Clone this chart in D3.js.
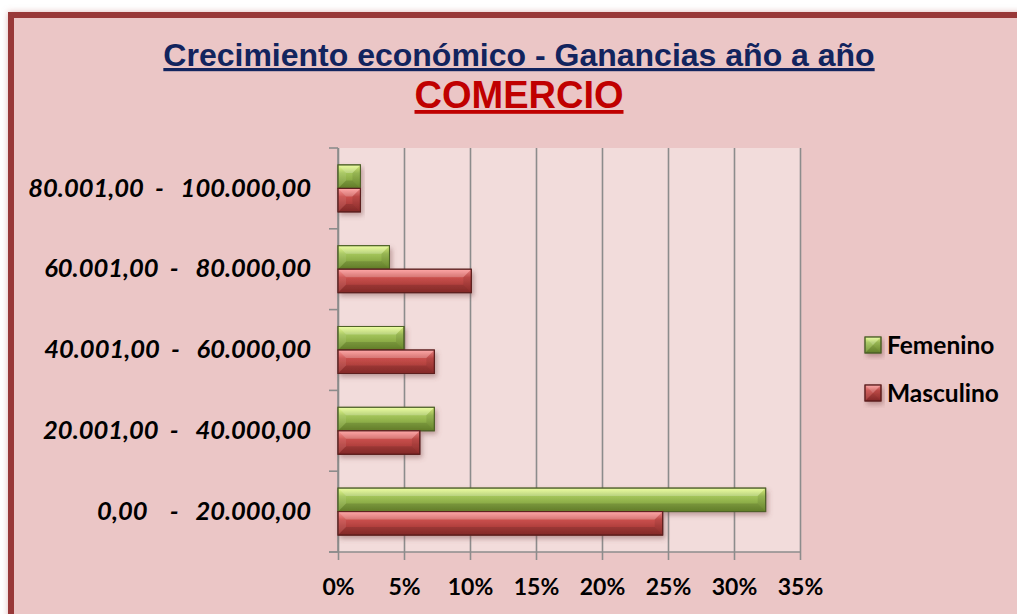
<!DOCTYPE html>
<html><head><meta charset="utf-8">
<script src="https://cdn.jsdelivr.net/npm/d3@7"></script>
<style>
html,body{margin:0;padding:0;background:#fff;}
svg{display:block;}
text{white-space:pre;}
</style></head>
<body>
<svg id="chart" width="1017" height="614"></svg>
<script>
const categories = ["80.001,00  -   100.000,00","60.001,00  -   80.000,00","40.001,00  -   60.000,00","20.001,00  -   40.000,00","0,00    -   20.000,00"];
const seriesNames = ["Femenino","Masculino"];
const femenino = [0.017, 0.039, 0.050, 0.073, 0.324];
const masculino = [0.017, 0.101, 0.073, 0.062, 0.246];
const xTicks = [0,0.05,0.10,0.15,0.20,0.25,0.30,0.35];
const titleText = "Crecimiento económico - Ganancias año a año";
const subtitleText = "COMERCIO";

const svg = d3.select("#chart");
const plot = {left:338, right:800, top:148, bottom:552};

const defs = svg.append("defs");
const glow = defs.append("filter").attr("id","glow").attr("x","-5%").attr("y","-5%").attr("width","110%").attr("height","110%");
glow.append("feDropShadow").attr("dx",0).attr("dy",0).attr("stdDeviation",3).attr("flood-color","#c98a8a").attr("flood-opacity",0.6);
const shadow = defs.append("filter").attr("id","shadow").attr("x","-10%").attr("y","-20%").attr("width","130%").attr("height","160%");
shadow.append("feDropShadow").attr("dx",2).attr("dy",3).attr("stdDeviation",2.5).attr("flood-color","#7a4a4a").attr("flood-opacity",0.45);

const palettes = {
  Femenino:{top:"#eaff86", mid:"#a3c45a", bot:"#6f8f2e", stroke:"#4f6228"},
  Masculino:{top:"#ff9090", mid:"#c94f4c", bot:"#952e2c", stroke:"#5e1f1e"}
};
Object.entries(palettes).forEach(([k,p])=>{
  const g = defs.append("linearGradient").attr("id","grad-"+k).attr("x1",0).attr("y1",0).attr("x2",0).attr("y2",1);
  g.append("stop").attr("offset","0%").attr("stop-color",p.top);
  g.append("stop").attr("offset","35%").attr("stop-color",p.mid);
  g.append("stop").attr("offset","100%").attr("stop-color",p.bot);
});

// frame
svg.append("rect").attr("x",11).attr("y",15).attr("width",1100).attr("height",700)
  .attr("fill","#ebc6c6").attr("stroke","#983838").attr("stroke-width",6).attr("filter","url(#glow)");

// title
svg.append("text").attr("x",519).attr("y",66).attr("text-anchor","middle")
  .attr("font-family","Liberation Sans, Arial, sans-serif").attr("font-weight","bold").attr("font-size",32)
  .attr("fill","#12245e").attr("text-decoration","underline").text(titleText);
svg.append("text").attr("x",519).attr("y",108).attr("text-anchor","middle")
  .attr("font-family","Liberation Sans, Arial, sans-serif").attr("font-weight","bold").attr("font-size",38)
  .attr("fill","#c00000").attr("text-decoration","underline").text(subtitleText);

// scales
const x = d3.scaleLinear().domain([0,0.35]).range([plot.left, plot.right]);
const pad = 0.418;
const y = d3.scaleBand().domain(categories).range([plot.top, plot.bottom]).paddingInner(pad).paddingOuter(pad/2);
const y1 = d3.scaleBand().domain(seriesNames).range([0, y.bandwidth()]);

// plot area
svg.append("rect").attr("x",plot.left).attr("y",plot.top).attr("width",plot.right-plot.left).attr("height",plot.bottom-plot.top).attr("fill","#f2dcdb");

// grid lines
const grid = svg.append("g").attr("transform",`translate(0,${plot.bottom})`)
  .call(d3.axisBottom(x).tickValues(xTicks).tickSizeInner(-(plot.bottom-plot.top)).tickSizeOuter(0).tickFormat(""));
grid.select(".domain").remove();
grid.selectAll("line").attr("stroke","#8c8c8c").attr("stroke-width",1.6);

// x axis with ticks + labels
const xa = svg.append("g").attr("transform",`translate(0,${plot.bottom})`)
  .call(d3.axisBottom(x).tickValues(xTicks).tickSizeInner(8).tickSizeOuter(0).tickPadding(18).tickFormat(d3.format(".0%")));
xa.select(".domain").remove();
xa.selectAll("line").attr("stroke","#8c8c8c").attr("stroke-width",1.6);
xa.selectAll("text").attr("font-family","Lato, sans-serif").attr("font-weight","bold").attr("font-size",23).attr("fill","#000").attr("dy","0.75em");
svg.append("line").attr("x1",plot.left-9).attr("x2",plot.right).attr("y1",plot.bottom).attr("y2",plot.bottom).attr("stroke","#8c8c8c").attr("stroke-width",1.6);

// y axis
const ya = svg.append("g").attr("transform",`translate(${plot.left},0)`)
  .call(d3.axisLeft(y).tickSize(0).tickPadding(27));
ya.select(".domain").remove();
ya.selectAll("text").attr("font-family","Lato, sans-serif").attr("font-weight","bold").attr("font-style","italic").attr("font-size",25.5).attr("fill","#000").style("white-space","pre");
svg.append("line").attr("x1",plot.left).attr("x2",plot.left).attr("y1",plot.top).attr("y2",plot.bottom).attr("stroke","#8c8c8c").attr("stroke-width",1.6);
const bounds = categories.map(c => y(c) - y.step()*pad/2).concat([plot.bottom]);
svg.append("g").selectAll("line").data(bounds).join("line")
  .attr("x1",plot.left-9).attr("x2",plot.left).attr("y1",d=>d).attr("y2",d=>d)
  .attr("stroke","#8c8c8c").attr("stroke-width",1.6);

// bevel bar drawer
function bevelBar(g, x0, y0, w, h, name){
  const p = palettes[name];
  const b = Math.min(8, h/2, w/2);
  const gg = g.append("g");
  gg.append("rect").attr("x",x0).attr("y",y0).attr("width",w).attr("height",h)
    .attr("fill",`url(#grad-${name})`).attr("stroke",p.stroke).attr("stroke-width",1).attr("filter","url(#shadow)");
  const x1 = x0+w, y1b = y0+h;
  gg.append("path").attr("d",`M${x0},${y0}L${x1},${y0}L${x1-b},${y0+b}L${x0+b},${y0+b}Z`).attr("fill","#fff").attr("opacity",0.22);
  gg.append("path").attr("d",`M${x0},${y1b}L${x1},${y1b}L${x1-b},${y1b-b}L${x0+b},${y1b-b}Z`).attr("fill","#000").attr("opacity",0.12);
  gg.append("path").attr("d",`M${x0},${y0}L${x0+b},${y0+b}L${x0+b},${y1b-b}L${x0},${y1b}Z`).attr("fill","#fff").attr("opacity",0.08);
  gg.append("path").attr("d",`M${x1},${y0}L${x1-b},${y0+b}L${x1-b},${y1b-b}L${x1},${y1b}Z`).attr("fill","#000").attr("opacity",0.08);
  gg.append("rect").attr("x",x0).attr("y",y0).attr("width",w).attr("height",h).attr("fill","none").attr("stroke",p.stroke).attr("stroke-width",1);
}

const series = {Femenino: femenino, Masculino: masculino};
const barsG = svg.append("g");
categories.forEach((c,i)=>{
  seriesNames.forEach(s=>{
    const v = series[s][i];
    bevelBar(barsG, x(0), y(c)+y1(s), x(v)-x(0), y1.bandwidth(), s);
  });
});

// legend
const legend = svg.append("g");
const legY = d3.scalePoint().domain(seriesNames).range([345, 393]);
seriesNames.forEach(s=>{
  bevelBar(legend, 865, legY(s)-8, 16, 16, s);
  legend.append("text").attr("x",887).attr("y",legY(s)).attr("dy","0.36em")
    .attr("font-family","Lato, sans-serif").attr("font-weight","bold").attr("font-size",24.5).attr("fill","#000").text(s);
});
</script>
</body></html>
